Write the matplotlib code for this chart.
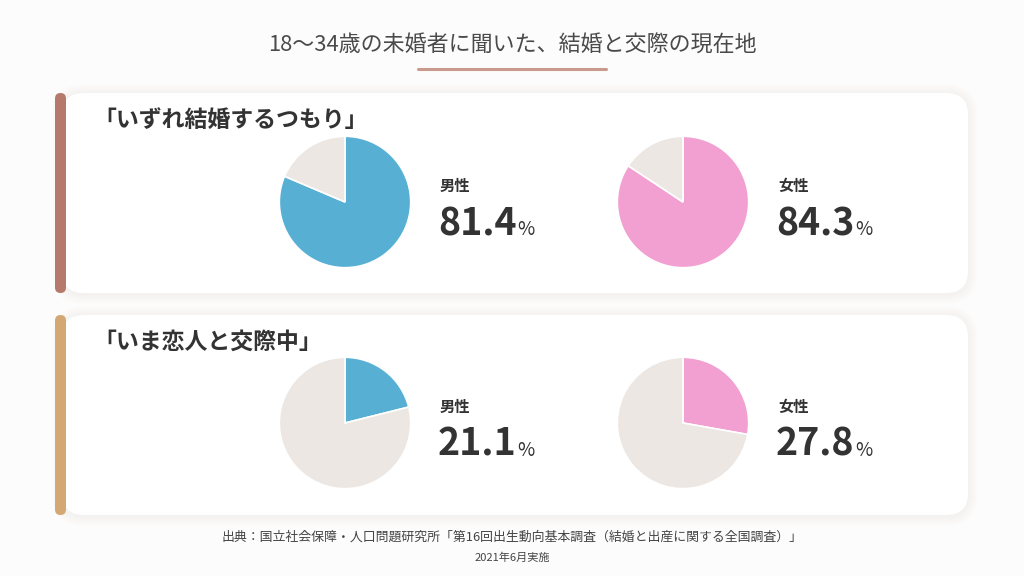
import matplotlib
matplotlib.use("Agg")
import matplotlib.pyplot as plt
from matplotlib.patches import FancyBboxPatch

plt.rcParams['font.family'] = ['Noto Sans CJK JP', 'DejaVu Sans']

# ---- data ----
title = "18〜34歳の未婚者に聞いた、結婚と交際の現在地"
sections = ["「いずれ結婚するつもり」", "「いま恋人と交際中」"]
genders = ["男性", "女性"]
values_marry = [81.4, 84.3]      # 男性, 女性
values_partner = [21.1, 27.8]    # 男性, 女性
source = "出典：国立社会保障・人口問題研究所「第16回出生動向基本調査（結婚と出産に関する全国調査）」"
source_date = "2021年6月実施"

gender_colors = ["#57b0d4", "#f29fd1"]
rest_color = "#ece7e3"
accent_colors = ["#b57a6c", "#d4a874"]

W, H = 1024, 576
fig = plt.figure(figsize=(W / 100, H / 100), dpi=100)
fig.patch.set_facecolor("#fdfcfc")
bg = fig.add_axes([0, 0, 1, 1])
bg.set_xlim(0, W)
bg.set_ylim(H, 0)
bg.axis("off")

# title
bg.text(512, 45.5, title, ha="center", va="center", fontsize=15.8, color="#4a4a4a")
bg.plot([418, 606], [69, 69], color="#c99a8b", lw=2.2, solid_capstyle="round")

card_tops = [93, 315]
card_h = 200
for i, top in enumerate(card_tops):
    # soft warm shadow
    for k in range(10, 0, -1):
        bg.add_patch(FancyBboxPatch((62 - k, top - k + 1), 906 + 2 * k, card_h + 2 * k,
                                    boxstyle="round,pad=0,rounding_size=%d" % (22 + k),
                                    fc="#c8b0a6", ec="none", alpha=0.012, zorder=1))
    bg.add_patch(FancyBboxPatch((62, top), 906, card_h,
                                boxstyle="round,pad=0,rounding_size=22",
                                fc="white", ec="none", zorder=2))
    bg.add_patch(FancyBboxPatch((55, top), 11, card_h,
                                boxstyle="round,pad=0,rounding_size=5.5",
                                fc=accent_colors[i], ec="none", zorder=3))
    bg.text(93, top + 27, sections[i], ha="left", va="center", fontsize=16.5,
            fontweight="bold", color="#333333", zorder=4)

pie_cx = [345, 683]
pie_cy = [202, 423]
R = 67
datasets = [values_marry, values_partner]
renderer = fig.canvas.get_renderer()
for r, vals in enumerate(datasets):
    for c, v in enumerate(vals):
        cx, cy = pie_cx[c], pie_cy[r]
        ax = fig.add_axes([(cx - R) / W, 1 - (cy + R) / H, 2 * R / W, 2 * R / H])
        ax.pie([v, 100 - v], colors=[gender_colors[c], rest_color], startangle=90,
               counterclock=False, radius=1,
               wedgeprops=dict(edgecolor="white", linewidth=1.2))
        ax.set_xlim(-1.02, 1.02)
        ax.set_ylim(-1.02, 1.02)
        ax.set_aspect("equal")
        ax.axis("off")
        tx = cx + 95
        bg.text(tx, cy - 16, genders[c], ha="left", va="center", fontsize=11,
                fontweight="bold", color="#333333", zorder=4)
        t = bg.text(tx - 2, cy + 33, f"{v:.1f}", ha="left", va="baseline", fontsize=27,
                    fontweight="bold", color="#333333", zorder=4)
        bb = t.get_window_extent(renderer=renderer)
        px = bb.x1 + 0.5
        bg.text(px, cy + 33, "%", ha="left", va="baseline", fontsize=13.5,
                color="#333333", zorder=4)

bg.text(512, 537, source, ha="center", va="center", fontsize=9.3, color="#444444")
bg.text(512, 558, source_date, ha="center", va="center", fontsize=8, color="#444444")

fig.savefig("out.png", dpi=100, facecolor=fig.get_facecolor())
